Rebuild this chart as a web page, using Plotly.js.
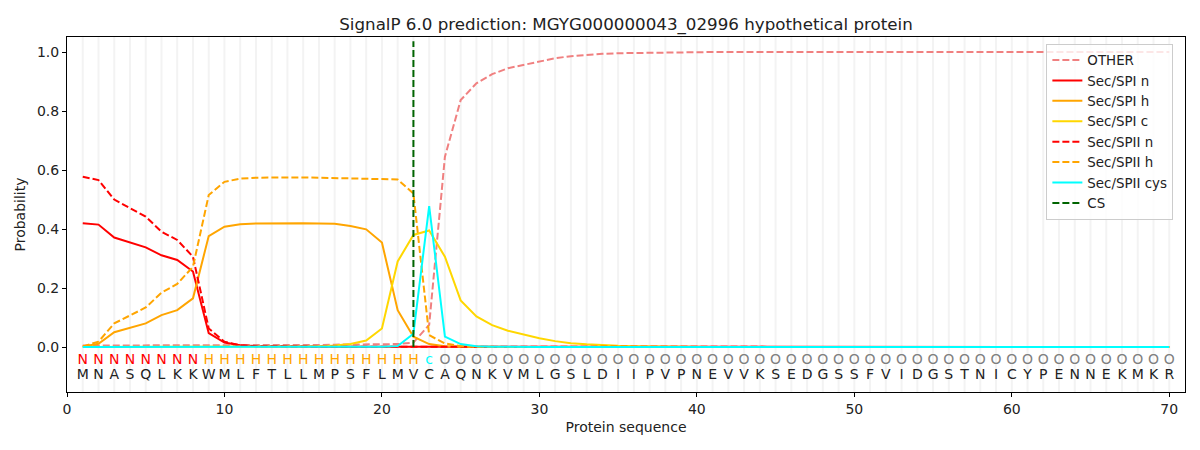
<!DOCTYPE html>
<html>
<head>
<meta charset="utf-8">
<script src="https://cdn.plot.ly/plotly-3.0.1.min.js"></script>
<style>
  body { margin: 0; background: #fff; }
  #myDiv { width: 1200px; height: 450px; }
</style>
</head>
<body>
<div id="myDiv"></div>
<script>
const sequence = "MNASQLKKWMLFTLLMPSFLMVCAQNKVMLGSLDIIPVPNEVVKSEDGSSFVIDGSTNICYPENNEKMKR".split("");
const regions = "NNNNNNNNHHHHHHHHHHHHHHcOOOOOOOOOOOOOOOOOOOOOOOOOOOOOOOOOOOOOOOOOOOOOOO".split("");
const cs_pos = 22;

// per-residue probabilities (positions 1..70)
const other = [
  0.005, 0.005, 0.005, 0.005, 0.005, 0.005, 0.005, 0.005, 0.006, 0.006,
  0.006, 0.006, 0.006, 0.007, 0.007, 0.007, 0.008, 0.008, 0.009, 0.009,
  0.010, 0.015, 0.075, 0.645, 0.837, 0.894, 0.925, 0.945, 0.956, 0.967,
  0.979, 0.986, 0.991, 0.994, 0.996, 0.997, 0.998, 0.998, 0.999, 0.999,
  1.0, 1.0, 1.0, 1.0, 1.0, 1.0, 1.0, 1.0, 1.0, 1.0,
  1.0, 1.0, 1.0, 1.0, 1.0, 1.0, 1.0, 1.0, 1.0, 1.0,
  1.0, 1.0, 1.0, 1.0, 1.0, 1.0, 1.0, 1.0, 1.0, 1.0
];
const spi_n = [
  0.420, 0.415, 0.371, 0.354, 0.338, 0.311, 0.295, 0.256, 0.047, 0.015,
  0.006, 0.003, 0.002, 0.002, 0.001, 0.001, 0.001, 0.001, 0.001, 0.001,
  0.001, 0.001, 0.001, 0.001, 0.0, 0.0, 0.0, 0.0, 0.0, 0.0,
  0.0, 0.0, 0.0, 0.0, 0.0, 0.0, 0.0, 0.0, 0.0, 0.0,
  0.0, 0.0, 0.0, 0.0, 0.0, 0.0, 0.0, 0.0, 0.0, 0.0,
  0.0, 0.0, 0.0, 0.0, 0.0, 0.0, 0.0, 0.0, 0.0, 0.0,
  0.0, 0.0, 0.0, 0.0, 0.0, 0.0, 0.0, 0.0, 0.0, 0.0
];
const spi_h = [
  0.002, 0.011, 0.050, 0.065, 0.080, 0.108, 0.125, 0.165, 0.376, 0.408,
  0.416, 0.419, 0.420, 0.420, 0.420, 0.419, 0.418, 0.410, 0.399, 0.354,
  0.125, 0.035, 0.010, 0.003, 0.001, 0.0, 0.0, 0.0, 0.0, 0.0,
  0.0, 0.0, 0.0, 0.0, 0.0, 0.0, 0.0, 0.0, 0.0, 0.0,
  0.0, 0.0, 0.0, 0.0, 0.0, 0.0, 0.0, 0.0, 0.0, 0.0,
  0.0, 0.0, 0.0, 0.0, 0.0, 0.0, 0.0, 0.0, 0.0, 0.0,
  0.0, 0.0, 0.0, 0.0, 0.0, 0.0, 0.0, 0.0, 0.0, 0.0
];
const spi_c = [
  0.0, 0.0, 0.0, 0.0, 0.0, 0.0, 0.0, 0.0, 0.001, 0.001,
  0.001, 0.001, 0.001, 0.001, 0.002, 0.003, 0.005, 0.010, 0.022, 0.063,
  0.290, 0.380, 0.395, 0.306, 0.158, 0.104, 0.074, 0.055, 0.042, 0.030,
  0.020, 0.013, 0.009, 0.006, 0.004, 0.003, 0.002, 0.001, 0.001, 0.0,
  0.0, 0.0, 0.0, 0.0, 0.0, 0.0, 0.0, 0.0, 0.0, 0.0,
  0.0, 0.0, 0.0, 0.0, 0.0, 0.0, 0.0, 0.0, 0.0, 0.0,
  0.0, 0.0, 0.0, 0.0, 0.0, 0.0, 0.0, 0.0, 0.0, 0.0
];
const spii_n = [
  0.577, 0.566, 0.500, 0.470, 0.442, 0.391, 0.363, 0.306, 0.063, 0.018,
  0.006, 0.003, 0.002, 0.002, 0.001, 0.001, 0.001, 0.001, 0.001, 0.001,
  0.001, 0.0, 0.0, 0.0, 0.0, 0.0, 0.0, 0.0, 0.0, 0.0,
  0.0, 0.0, 0.0, 0.0, 0.0, 0.0, 0.0, 0.0, 0.0, 0.0,
  0.0, 0.0, 0.0, 0.0, 0.0, 0.0, 0.0, 0.0, 0.0, 0.0,
  0.0, 0.0, 0.0, 0.0, 0.0, 0.0, 0.0, 0.0, 0.0, 0.0,
  0.0, 0.0, 0.0, 0.0, 0.0, 0.0, 0.0, 0.0, 0.0, 0.0
];
const spii_h = [
  0.002, 0.018, 0.080, 0.106, 0.134, 0.184, 0.214, 0.272, 0.515, 0.560,
  0.571, 0.574, 0.575, 0.575, 0.575, 0.574, 0.573, 0.572, 0.571, 0.570,
  0.568, 0.520, 0.040, 0.012, 0.003, 0.001, 0.0, 0.0, 0.0, 0.0,
  0.0, 0.0, 0.0, 0.0, 0.0, 0.0, 0.0, 0.0, 0.0, 0.0,
  0.0, 0.0, 0.0, 0.0, 0.0, 0.0, 0.0, 0.0, 0.0, 0.0,
  0.0, 0.0, 0.0, 0.0, 0.0, 0.0, 0.0, 0.0, 0.0, 0.0,
  0.0, 0.0, 0.0, 0.0, 0.0, 0.0, 0.0, 0.0, 0.0, 0.0
];
const spii_cys = [
  0.0, 0.0, 0.0, 0.0, 0.0, 0.0, 0.0, 0.0, 0.0, 0.0,
  0.0, 0.0, 0.0, 0.0, 0.0, 0.0, 0.0, 0.0, 0.0, 0.001,
  0.003, 0.045, 0.478, 0.035, 0.010, 0.003, 0.001, 0.0, 0.0, 0.0,
  0.0, 0.0, 0.0, 0.0, 0.0, 0.0, 0.0, 0.0, 0.0, 0.0,
  0.0, 0.0, 0.0, 0.0, 0.0, 0.0, 0.0, 0.0, 0.0, 0.0,
  0.0, 0.0, 0.0, 0.0, 0.0, 0.0, 0.0, 0.0, 0.0, 0.0,
  0.0, 0.0, 0.0, 0.0, 0.0, 0.0, 0.0, 0.0, 0.0, 0.0
];

const positions = sequence.map((_, i) => i + 1);
const region_colors = { N: "red", H: "orange", c: "cyan", O: "gray" };
const FONT = "DejaVu Sans, sans-serif";
const DASH = "7px,3px";

function line_trace(name, y, color, dash) {
  return {
    x: positions,
    y: y,
    name: name,
    type: "scatter",
    mode: "lines",
    line: { color: color, width: 2, dash: dash || "solid" },
    hoverinfo: "skip",
  };
}

function letter_trace(letters, yv, colors) {
  return {
    x: positions,
    y: letters.map(() => yv),
    text: letters,
    type: "scatter",
    mode: "text",
    textposition: "middle center",
    textfont: { family: FONT, size: 14, color: colors },
    showlegend: false,
    hoverinfo: "skip",
  };
}

const data = [
  line_trace("OTHER", other, "#f08080", DASH),
  line_trace("Sec/SPI n", spi_n, "red"),
  line_trace("Sec/SPI h", spi_h, "orange"),
  line_trace("Sec/SPI c", spi_c, "gold"),
  line_trace("Sec/SPII n", spii_n, "red", DASH),
  line_trace("Sec/SPII h", spii_h, "orange", DASH),
  line_trace("Sec/SPII cys", spii_cys, "cyan"),
  {
    x: [cs_pos, cs_pos],
    y: [0, 1.037],
    name: "CS",
    type: "scatter",
    mode: "lines",
    line: { color: "darkgreen", width: 2, dash: DASH },
    hoverinfo: "skip",
  },
  letter_trace(regions, -0.046, regions.map((r) => region_colors[r])),
  letter_trace(sequence, -0.097, "#222"),
];

// light vertical guide at every residue
const shapes = positions.map((p) => ({
  type: "line",
  xref: "x",
  yref: "paper",
  x0: p,
  x1: p,
  y0: 0,
  y1: 1,
  layer: "below",
  line: { color: "#f3f3f3", width: 2 },
}));

const layout = {
  width: 1200,
  height: 450,
  margin: { l: 67, r: 15, t: 37, b: 58, pad: 0 },
  paper_bgcolor: "white",
  plot_bgcolor: "white",
  font: { family: FONT, size: 14, color: "#222" },
  title: {
    text: "SignalP 6.0 prediction: MGYG000000043_02996 hypothetical protein",
    font: { family: FONT, size: 16.7, color: "#222" },
    x: 0.5,
    xref: "paper",
    y: 1 - 24 / 450,
    yref: "container",
    yanchor: "middle",
  },
  xaxis: {
    range: [0, 71],
    tickvals: [0, 10, 20, 30, 40, 50, 60, 70],
    ticks: "outside",
    ticklen: 4,
    tickwidth: 1,
    tickcolor: "black",
    showgrid: false,
    zeroline: false,
    showline: true,
    linecolor: "black",
    linewidth: 1,
    mirror: true,
    tickfont: { family: FONT, size: 14, color: "#222" },
    title: { text: "Protein sequence", font: { family: FONT, size: 14, color: "#222" }, standoff: 6 },
  },
  yaxis: {
    range: [-0.1525, 1.051],
    tickvals: [0, 0.2, 0.4, 0.6, 0.8, 1.0],
    tickformat: ".1f",
    ticks: "outside",
    ticklen: 4,
    tickwidth: 1,
    tickcolor: "black",
    showgrid: false,
    zeroline: false,
    showline: true,
    linecolor: "black",
    linewidth: 1,
    mirror: true,
    tickfont: { family: FONT, size: 14, color: "#222" },
    title: { text: "Probability", font: { family: FONT, size: 14, color: "#222" }, standoff: 8 },
  },
  legend: {
    x: 0.876,
    y: 0.981,
    xanchor: "left",
    yanchor: "top",
    bgcolor: "rgba(255,255,255,0.8)",
    bordercolor: "#cccccc",
    borderwidth: 1,
    itemwidth: 30,
    tracegroupgap: 0,
    font: { family: FONT, size: 13.4, color: "#222" },
  },
  shapes: shapes,
  showlegend: true,
};

Plotly.newPlot("myDiv", data, layout, { staticPlot: true });
</script>
</body>
</html>
